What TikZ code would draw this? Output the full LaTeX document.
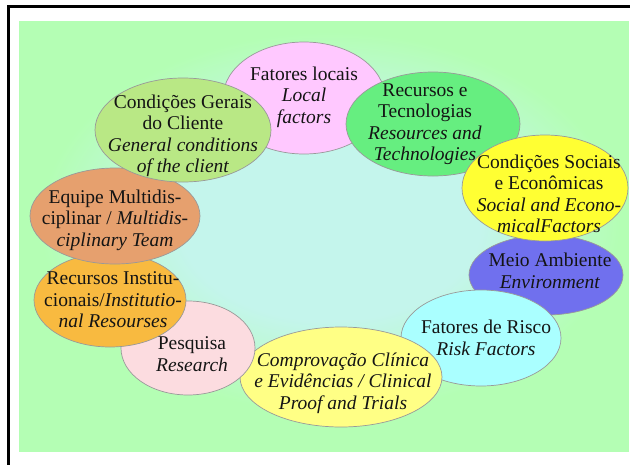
\documentclass[tikz,border=0pt]{standalone}
\usepackage{fontspec}
\setmainfont{Liberation Serif}
\usetikzlibrary{shapes.geometric}
\definecolor{fundo}{HTML}{B4FEB4}
\definecolor{centro}{HTML}{C4F5EC}
\definecolor{corLocais}{HTML}{FFC8FF}
\definecolor{corGerais}{HTML}{B9E885}
\definecolor{corTecno}{HTML}{66EE80}
\definecolor{corSociais}{HTML}{FFFF33}
\definecolor{corAmbiente}{HTML}{7070EE}
\definecolor{corRisco}{HTML}{AAFFFF}
\definecolor{corProva}{HTML}{FFFF85}
\definecolor{corPesquisa}{HTML}{FCDCE0}
\definecolor{corInstit}{HTML}{F8BA40}
\definecolor{corEquipe}{HTML}{E6A06E}
\pgfdeclareradialshading{nucleo}{\pgfpoint{0bp}{0bp}}{color(0bp)=(centro); color(13bp)=(centro); color(25bp)=(fundo); color(50bp)=(fundo)}
\begin{document}
\begin{tikzpicture}[
    x=1pt, y=-1pt,
    balao/.style={ellipse, draw=black!40, line width=0.7pt, inner sep=0pt},
    rotulo/.style={align=center, text=black!92, inner sep=0pt,
    font=\fontsize{19.5}{21.5}\selectfont}
    ]
\useasboundingbox (0,0) rectangle (630,464);
\clip (0,0) rectangle (630,464);
\fill[white] (0,0) rectangle (630,464);
\draw[line width=2.6pt] (8.5,6.3) rectangle (700,520);
\fill[fundo] (19,21) rectangle (629,452);
\shade[shading=nucleo] (330,222) ellipse (290pt and 190pt);

%Lower part of the ring
\node[balao, fill=corAmbiente, minimum width=154pt, minimum height=80pt] (ambiente) at (546,275) {};
\node[balao, fill=corRisco, minimum width=160pt, minimum height=96pt] (risco) at (481,338) {};
\node[balao, fill=corProva, minimum width=202pt, minimum height=100pt] (prova) at (341,377) {};
\node[balao, fill=corPesquisa, minimum width=134pt, minimum height=94pt] (pesquisa) at (188,348) {};
\node[balao, fill=corInstit, minimum width=152pt, minimum height=94pt] (instit) at (110,300) {};
\node[balao, fill=corEquipe, minimum width=170pt, minimum height=96pt] (equipe) at (115,216) {};
%Upper part of the ring
\node[balao, fill=corLocais, minimum width=162pt, minimum height=112pt] (locais) at (304,98) {};
\node[balao, fill=corTecno, minimum width=174pt, minimum height=104pt] (tecno) at (433,124) {};
\node[balao, fill=corSociais, minimum width=166pt, minimum height=106pt] (sociais) at (545,188) {};
\node[balao, fill=corGerais, minimum width=176pt, minimum height=104pt] (gerais) at (183,130) {};

%Texts
\node[rotulo] (t-locais) at ([yshift=1pt]locais) {Fatores locais\\ \textit{Local}\\ \textit{factors}};
\node[rotulo] (t-gerais) at ([yshift=-6pt]gerais) {Condições Gerais\\do Cliente\\ \textit{General conditions}\\ \textit{of the client}};
\node[rotulo] (t-tecno) at ([xshift=-8pt]tecno) {Recursos e\\Tecnologias\\ \textit{Resources and}\\ \textit{Technologies}};
\node[rotulo] (t-sociais) at ([xshift=4pt,yshift=-6pt]sociais) {Condições Sociais\\e Econômicas\\ \textit{Social and Econo-}\\ \textit{micalFactors}};
\node[rotulo] (t-ambiente) at ([xshift=4pt,yshift=4pt]ambiente) {Meio Ambiente\\ \textit{Environment}};
\node[rotulo] (t-risco) at ([xshift=5pt]risco) {Fatores de Risco\\ \textit{Risk Factors}};
\node[rotulo] (t-prova) at ([xshift=2pt,yshift=-6pt]prova) {\textit{Comprovação Clínica}\\ \textit{e Evidências / Clinical}\\ \textit{Proof and Trials}};
\node[rotulo] (t-pesquisa) at ([xshift=4pt,yshift=-6pt]pesquisa) {Pesquisa\\ \textit{Research}};
\node[rotulo] (t-instit) at ([xshift=3pt]instit) {Recursos Institu-\\cionais/\textit{Institutio-}\\ \textit{nal Resourses}};
\node[rotulo] (t-equipe) at ([yshift=-4pt]equipe) {Equipe Multidis-\\ciplinar / \textit{Multidis-}\\ \textit{ciplinary Team}};
\end{tikzpicture}
\end{document}
